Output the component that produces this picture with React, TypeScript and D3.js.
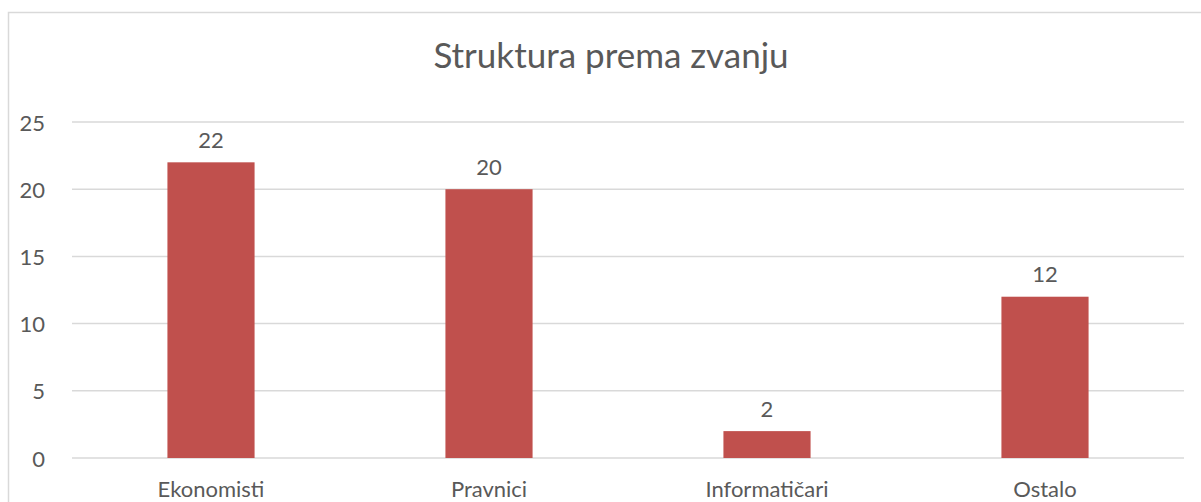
import React from "react";
import * as d3 from "d3";

const categories = ["Ekonomisti", "Pravnici", "Informatičari", "Ostalo"];
const values = [22, 20, 2, 12];
const yTicks = [0, 5, 10, 15, 20, 25];
const title = "Struktura prema zvanju";

const W = 1201;
const H = 502;
const FONT = "Lato, 'Open Sans', sans-serif";
const TEXT = "#595959";
const GRID = "#D9D9D9";
const BAR = "#C0504D";

export default function App() {
  const x = d3.scaleBand<string>().domain(categories).range([72, 1184]).padding(0);
  const y = d3.scaleLinear().domain([0, 25]).range([458, 122]);
  const barW = x.bandwidth() / 3.19;

  return (
    <svg width={W} height={H} style={{ position: "absolute", left: 0, top: 0, background: "#fff" }}>
      <rect x={8.5} y={12.5} width={1200} height={600} fill="#fff" stroke={GRID} strokeWidth={1.5} />
      <text x={611} y={59} textAnchor="middle" dominantBaseline="middle" fontFamily={FONT} fontSize={35} fill={TEXT}>
        {title}
      </text>
      {yTicks.map((t) => (
        <g key={t}>
          <line x1={72} x2={1184} y1={y(t)} y2={y(t)} stroke={GRID} strokeWidth={1.5} />
          <text x={45} y={y(t)} textAnchor="end" dominantBaseline="central" fontFamily={FONT} fontSize={22} fill={TEXT}>
            {t}
          </text>
        </g>
      ))}
      {categories.map((c, i) => {
        const cx = (x(c) as number) + x.bandwidth() / 2;
        return (
          <g key={c}>
            <rect x={cx - barW / 2} y={y(values[i])} width={barW} height={y(0) - y(values[i])} fill={BAR} />
            <text x={cx} y={y(values[i]) - 23} textAnchor="middle" dominantBaseline="central" fontFamily={FONT} fontSize={22} fill={TEXT}>
              {values[i]}
            </text>
            <text x={cx} y={488} textAnchor="middle" dominantBaseline="central" fontFamily={FONT} fontSize={22} fill={TEXT}>
              {c}
            </text>
          </g>
        );
      })}
    </svg>
  );
}
